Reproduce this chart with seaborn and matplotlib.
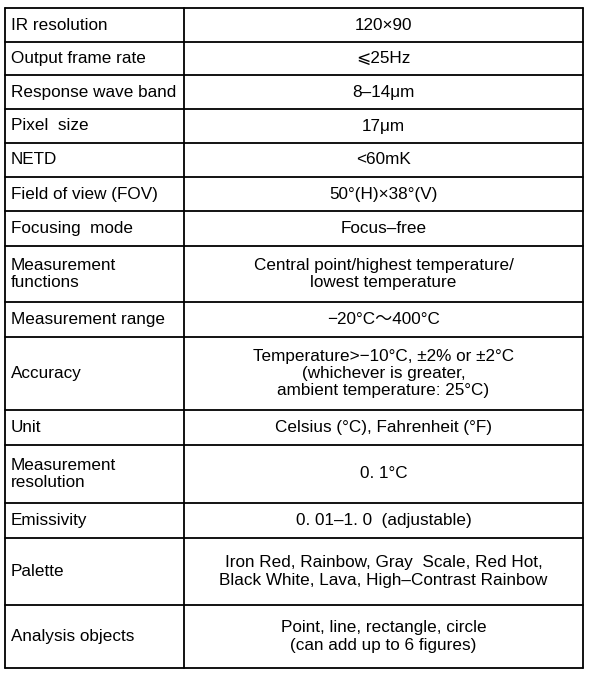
import matplotlib
matplotlib.use("Agg")
import matplotlib.pyplot as plt
import seaborn as sns

sns.set_theme(style="white")
plt.rcParams['font.family'] = ['Liberation Sans', 'DejaVu Sans', 'Noto Sans CJK SC']

params = ["IR resolution", "Output frame rate", "Response wave band", "Pixel  size", "NETD",
          "Field of view (FOV)", "Focusing  mode", "Measurement\nfunctions", "Measurement range",
          "Accuracy", "Unit", "Measurement\nresolution", "Emissivity", "Palette", "Analysis objects"]
values = ["120×90", "⩽25Hz", "8–14μm", "17μm", "<60mK", "50°(H)×38°(V)", "Focus–free",
          "Central point/highest temperature/\nlowest temperature", "−20°C～400°C",
          "Temperature>−10°C, ±2% or ±2°C\n(whichever is greater,\nambient temperature: 25°C)",
          "Celsius (°C), Fahrenheit (°F)", "0. 1°C", "0. 01–1. 0  (adjustable)",
          "Iron Red, Rainbow, Gray  Scale, Red Hot,\nBlack White, Lava, High–Contrast Rainbow",
          "Point, line, rectangle, circle\n(can add up to 6 figures)"]
row_edges = [8, 42, 75, 109, 143, 177, 211, 246, 302, 337, 410, 445, 503, 538, 605, 668]

fig = plt.figure(figsize=(5.9, 6.76), dpi=100)
ax = fig.add_axes([0, 0, 1, 1])
ax.set_xlim(0, 590)
ax.set_ylim(676, 0)
ax.axis("off")

x0, xm, x1 = 5, 184, 583
lw = 1.3
for y in row_edges:
    ax.plot([x0, x1], [y, y], color="black", lw=lw)
for x in (x0, xm, x1):
    ax.plot([x, x], [row_edges[0], row_edges[-1]], color="black", lw=lw)

for i, (p, v) in enumerate(zip(params, values)):
    yc = (row_edges[i] + row_edges[i + 1]) / 2
    ax.text(x0 + 6, yc, p, ha="left", va="center", fontsize=12.3, color="black", linespacing=1.2)
    ax.text((xm + x1) / 2, yc, v, ha="center", va="center", fontsize=12.3, color="black", linespacing=1.2)

fig.savefig("out.png", dpi=100, facecolor="white")
